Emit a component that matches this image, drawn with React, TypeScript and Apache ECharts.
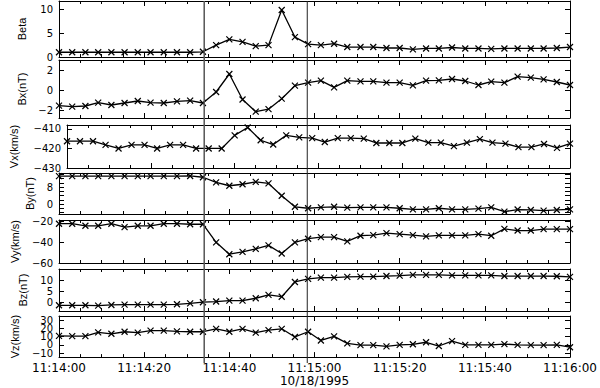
import React, { useEffect, useRef } from "react";
import * as echarts from "echarts";

// seconds after 11:14:00 on 10/18/1995
const times = [0, 3.1, 6.2, 9.2, 12.3, 15.4, 18.5, 21.5, 24.6, 27.7, 30.8, 33.8, 36.9, 40.0, 43.1, 46.2, 49.2, 52.3, 55.4, 58.5, 61.5, 64.6, 67.7, 70.8, 73.8, 76.9, 80.0, 83.1, 86.2, 89.2, 92.3, 95.4, 98.5, 101.5, 104.6, 107.7, 110.8, 113.8, 116.9, 120.0];

const beta = [1.0, 1.0, 1.0, 1.0, 1.0, 1.0, 1.0, 1.0, 1.0, 1.0, 1.0, 1.1, 2.5, 3.7, 3.2, 2.3, 2.5, 9.9, 4.2, 2.7, 2.5, 2.8, 2.1, 2.1, 2.1, 1.9, 1.9, 1.6, 1.8, 1.8, 2.0, 1.8, 1.8, 1.7, 1.8, 1.8, 1.8, 1.8, 1.9, 2.1];
const bx = [-1.57, -1.67, -1.6, -1.27, -1.5, -1.3, -1.1, -1.27, -1.3, -1.13, -1.07, -1.3, -0.2, 1.6, -0.95, -2.17, -1.92, -0.87, 0.43, 0.73, 0.93, 0.27, 0.93, 0.87, 0.87, 0.73, 0.73, 0.47, 0.93, 0.97, 1.1, 0.9, 0.5, 0.83, 0.73, 1.33, 1.23, 1.07, 0.8, 0.5];
const vx = [-416.3, -416.3, -416.3, -418.2, -420, -418.2, -418.2, -420, -418.2, -418.2, -420, -420, -420, -413.3, -409.3, -415.8, -418, -413.3, -414.3, -414.7, -416.7, -414.7, -414.7, -415, -417.2, -417.2, -417.2, -415, -417, -417, -418.8, -417, -415.2, -417, -417.5, -419.3, -419.3, -417.7, -419.7, -417.5];
const by = [13.1, 13.1, 13.1, 13.1, 13.1, 13.1, 13.1, 13.1, 13.1, 13.1, 13.2, 12.6, 10.2, 8.6, 9.3, 10.4, 9.7, 3.9, -1.3, -2.0, -1.6, -1.3, -1.7, -1.6, -1.6, -1.6, -2.0, -2.5, -2.5, -2.0, -2.5, -2.5, -2.2, -1.6, -3.6, -2.6, -2.8, -3.1, -2.8, -2.5];
const vy = [-22, -22, -24, -24, -22, -25.3, -24, -24, -22, -22, -22.5, -22.5, -40, -51.5, -49.2, -46.3, -42.9, -50.8, -40, -36.5, -34.9, -34.9, -39.1, -33.6, -33, -31.1, -32, -33, -34.3, -33.3, -33.3, -33.3, -32, -33.6, -27, -28.6, -28.6, -27.3, -27.3, -27.3];
const bz = [-1.2, -1.2, -1.2, -1.35, -1.05, -0.9, -0.9, -0.9, -0.9, -0.75, -0.3, 0.2, 0.5, 0.9, 0.9, 2.0, 3.5, 2.7, 9.4, 10.8, 11.4, 11.4, 11.7, 11.8, 11.8, 12.1, 12.3, 12.6, 12.6, 12.6, 12.4, 12.4, 12.4, 12.4, 12.1, 12.1, 12.1, 12.1, 12.0, 11.7];
const vz = [11, 10.7, 10.7, 15.4, 13.6, 16.1, 15, 17.5, 17.5, 16.5, 16.1, 16.1, 19.7, 16.1, 19.7, 15, 18, 19.7, 9.7, 16.1, 5.4, 10.4, 1.8, -0.4, -0.4, -1.8, 0, 0.7, 3.2, -1.4, 4.6, 0, 0, 0, 1, 0, -0.4, -0.4, 0, -2.9];

const panelNames = ["Beta", "Bx(nT)", "Vx(km/s)", "By(nT)", "Vy(km/s)", "Bz(nT)", "Vz(km/s)"];
const panelValues = [beta, bx, vx, by, vy, bz, vz];
const panelMin = [0, -2.8, -430, -4.7, -60, -3.8, -15];
const panelMax = [11.8, 3.0, -408, 14.6, -18.4, 15.3, 35.4];
const panelLabels = [[0, 5, 10], [-2, 0, 2], [-430, -420, -410], [0, 8], [-60, -40, -20], [0, 5, 10], [-10, 0, 10, 20, 30]];
const panelTicks = [[0, 5, 10], [-2, 0, 2], [-430, -420, -410], [-4, -2, 0, 2, 4, 6, 8, 10, 12, 14], [-60, -40, -20], [0, 5, 10], [-10, 0, 10, 20, 30]];

const timeTickLabels = ["11:14:00", "11:14:20", "11:14:40", "11:15:00", "11:15:20", "11:15:40", "11:16:00"];
const dateLabel = "10/18/1995";
const eventTimes = [34.1, 58.3];

// layout (pixels)
const gridBoxes = [
  { top: 1, height: 56 },
  { top: 60, height: 58 },
  { top: 125, height: 43 },
  { top: 173, height: 41 },
  { top: 220, height: 43 },
  { top: 269, height: 42 },
  { top: 316, height: 47 },
];
const nameGaps = [32, 31, 48, 21, 37, 31, 37];

const fmtNum = (v: number) => (v < 0 ? "\u2212" + Math.abs(v) : String(v));

export default function App() {
  const ref = useRef<HTMLDivElement>(null);
  useEffect(() => {
    if (!ref.current) return;
    const chart = echarts.init(ref.current, undefined, { renderer: "svg" });
    const grid: any[] = [];
    const xAxis: any[] = [];
    const yAxis: any[] = [];
    const series: any[] = [];
    const axisLine = { show: true, onZero: false, lineStyle: { color: "#000", width: 1 } };
    const labelStyle = {
      color: "#000",
      fontFamily: "DejaVu Sans",
      fontSize: 10,
      lineHeight: 9,
      margin: 6,
      hideOverlap: false,
      formatter: (v: number) => fmtNum(v),
    };
    panelNames.forEach((name, i) => {
      grid.push({ left: 59, right: 30, top: gridBoxes[i].top, height: gridBoxes[i].height });
      const isLast = i === panelNames.length - 1;
      const xBase = {
        gridIndex: i,
        type: "value",
        min: 0,
        max: 120,
        interval: 20,
        axisLine,
        axisTick: { show: true, inside: true, length: 5, lineStyle: { color: "#000" } },
        minorTick: { show: true, splitNumber: 4, length: 3, lineStyle: { color: "#000" } },
        splitLine: { show: false },
        minorSplitLine: { show: false },
      };
      xAxis.push({
        ...xBase,
        position: "bottom",
        axisLabel: {
          show: isLast,
          color: "#000",
          fontFamily: "DejaVu Sans",
          fontSize: 12,
          margin: 5,
          hideOverlap: false,
          formatter: (v: number) => timeTickLabels[Math.round(v / 20)] ?? "",
        },
        name: isLast ? dateLabel : "",
        nameLocation: "middle",
        nameGap: 17,
        nameTextStyle: { color: "#000", fontFamily: "DejaVu Sans", fontSize: 12 },
      });
      xAxis.push({ ...xBase, position: "top", axisLabel: { show: false } });
      const yBase = {
        gridIndex: i,
        type: "value",
        min: panelMin[i],
        max: panelMax[i],
        axisLine,
        axisTick: { show: true, inside: true, length: 5, customValues: panelTicks[i], lineStyle: { color: "#000" } },
        splitLine: { show: false },
      };
      const labelsA = panelLabels[i].filter((_, k) => k % 2 === 0);
      const labelsB = panelLabels[i].filter((_, k) => k % 2 === 1);
      const mainIndex = yAxis.length;
      yAxis.push({
        ...yBase,
        position: "left",
        axisLabel: { show: true, customValues: labelsA, ...labelStyle },
        name,
        nameLocation: "middle",
        nameGap: nameGaps[i],
        nameTextStyle: { color: "#000", fontFamily: "Liberation Sans", fontSize: 11 },
      });
      yAxis.push({ ...yBase, position: "right", axisLabel: { show: false } });
      if (labelsB.length) {
        yAxis.push({
          gridIndex: i,
          type: "value",
          min: panelMin[i],
          max: panelMax[i],
          position: "left",
          axisLine: { show: false },
          axisTick: { show: false },
          splitLine: { show: false },
          axisLabel: { show: true, customValues: labelsB, ...labelStyle },
        });
      }
      series.push({
        type: "line",
        xAxisIndex: 2 * i,
        yAxisIndex: mainIndex,
        data: times.map((t, j) => [t, panelValues[i][j]]),
        symbol: "path://M0,0L10,10M0,10L10,0",
        symbolSize: 6,
        showAllSymbol: true,
        lineStyle: { color: "#000", width: 1.3 },
        itemStyle: { color: "#000", borderColor: "#000", borderWidth: 1.2 },
        silent: true,
      });
    });
    chart.setOption({
      animation: false,
      backgroundColor: "#fff",
      grid,
      xAxis,
      yAxis,
      series,
    });
    const top = gridBoxes[0].top;
    const bottom = gridBoxes[gridBoxes.length - 1].top + gridBoxes[gridBoxes.length - 1].height;
    const lineColors = ["#555", "#222"];
    const lineWidths = [1.5, 1];
    chart.setOption({
      graphic: eventTimes.map((t, k) => {
        const x = chart.convertToPixel({ xAxisIndex: 0 }, t) as number;
        return {
          type: "line",
          shape: { x1: x, y1: top, x2: x, y2: bottom },
          style: { stroke: lineColors[k], lineWidth: lineWidths[k] },
          z: 10,
          silent: true,
        };
      }),
    });
    return () => chart.dispose();
  }, []);
  return <div ref={ref} style={{ position: "fixed", left: 0, top: 0, width: 600, height: 388 }} />;
}
